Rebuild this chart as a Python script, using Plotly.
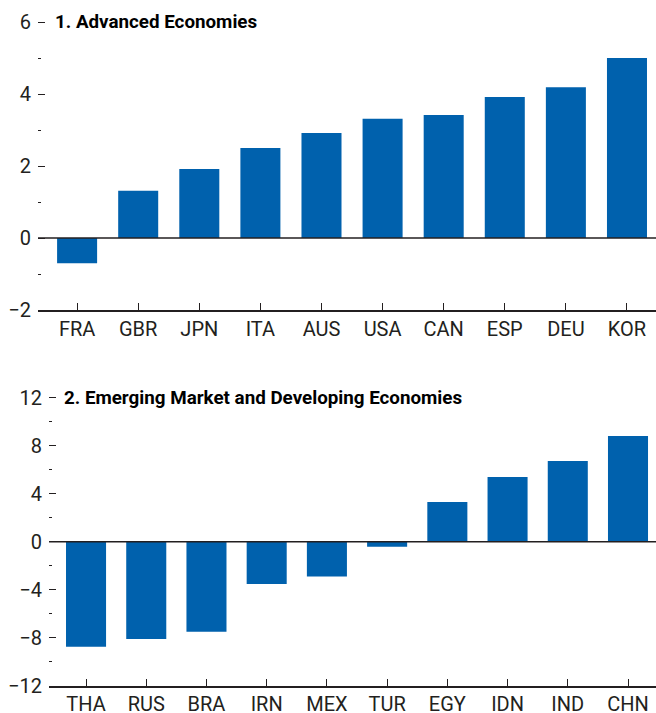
import plotly.graph_objects as go
from plotly.subplots import make_subplots

adv_countries = ["FRA", "GBR", "JPN", "ITA", "AUS", "USA", "CAN", "ESP", "DEU", "KOR"]
adv_values = [-0.70, 1.31, 1.92, 2.50, 2.92, 3.31, 3.42, 3.92, 4.19, 5.00]

em_countries = ["THA", "RUS", "BRA", "IRN", "MEX", "TUR", "EGY", "IDN", "IND", "CHN"]
em_values = [-8.75, -8.10, -7.50, -3.52, -2.90, -0.42, 3.31, 5.39, 6.72, 8.80]

adv_ticks = [-2, 0, 2, 4, 6]
em_ticks = [-12, -8, -4, 0, 4, 8, 12]

BAR = "#0061AD"
INK = "#231F20"
FONT = "Roboto, Liberation Sans, sans-serif"
W, H = 656, 713

fig = make_subplots(rows=2, cols=1)
fig.add_trace(go.Bar(x=adv_countries, y=adv_values, marker_color=BAR, marker_line_width=0,
                     width=0.655), row=1, col=1)
fig.add_trace(go.Bar(x=em_countries, y=em_values, marker_color=BAR, marker_line_width=0,
                     width=0.665), row=2, col=1)

def px_y(p):
    return 1 - p / H

common_x = dict(showline=True, linecolor=INK, linewidth=1.5, ticks="inside", ticklen=7,
                tickwidth=1.2, tickcolor=INK, showgrid=False, zeroline=False,
                tickfont=dict(family=FONT, size=20, color=INK), automargin=False,
                ticklabelstandoff=0)
common_y = dict(showline=False, showgrid=False, zeroline=False, ticks="inside", ticklen=7,
                tickwidth=1.2, tickcolor=INK, tickfont=dict(family=FONT, size=20, color=INK),
                automargin=False, ticklabelstandoff=6)

fig.update_xaxes(common_x, row=1, col=1)
fig.update_xaxes(common_x, row=2, col=1)
# top panel: 36 px per unit; bottom panel: 12 px per unit
fig.update_layout(
    xaxis=dict(domain=[38 / W, 1], range=[-0.64, 9.475]),
    xaxis2=dict(domain=[49 / W, 1], range=[-0.615, 9.465]),
    yaxis=dict(common_y, domain=[px_y(310), px_y(22 - 0.05 * 36)], range=[-2, 6.05],
               tickvals=adv_ticks,
               minor=dict(ticks="inside", ticklen=3, tickwidth=1.2, tickcolor=INK, dtick=1)),
    yaxis2=dict(common_y, domain=[px_y(685.7), px_y(397.7 - 0.15 * 12)], range=[-12, 12.15],
                tickvals=em_ticks,
                minor=dict(ticks="inside", ticklen=3, tickwidth=1.2, tickcolor=INK, dtick=2)),
)

for xr, yr in (("x", "y"), ("x2", "y2")):
    fig.add_shape(type="line", xref=f"{xr} domain", yref=yr, x0=0, x1=1, y0=0, y1=0,
                  line=dict(color=INK, width=1.5), layer="above")

fig.add_annotation(text="<b>1. Advanced Economies</b>", xref="paper", yref="paper",
                   x=53 / W, y=px_y(22), xanchor="left", yanchor="middle", showarrow=False,
                   font=dict(family=FONT, size=18.8, color="#000000"))
fig.add_annotation(text="<b>2. Emerging Market and Developing Economies</b>", xref="paper",
                   yref="paper", x=62 / W, y=px_y(397.5), xanchor="left", yanchor="middle",
                   showarrow=False, font=dict(family=FONT, size=18.8, color="#000000"))

fig.update_layout(width=W, height=H, margin=dict(l=0, r=0, t=0, b=0), showlegend=False,
                  plot_bgcolor="white", paper_bgcolor="white", bargap=0.345)

fig.write_html("out.html", config={"displayModeBar": False},
               post_script="document.body.style.margin='0';document.body.style.overflow='hidden';")
